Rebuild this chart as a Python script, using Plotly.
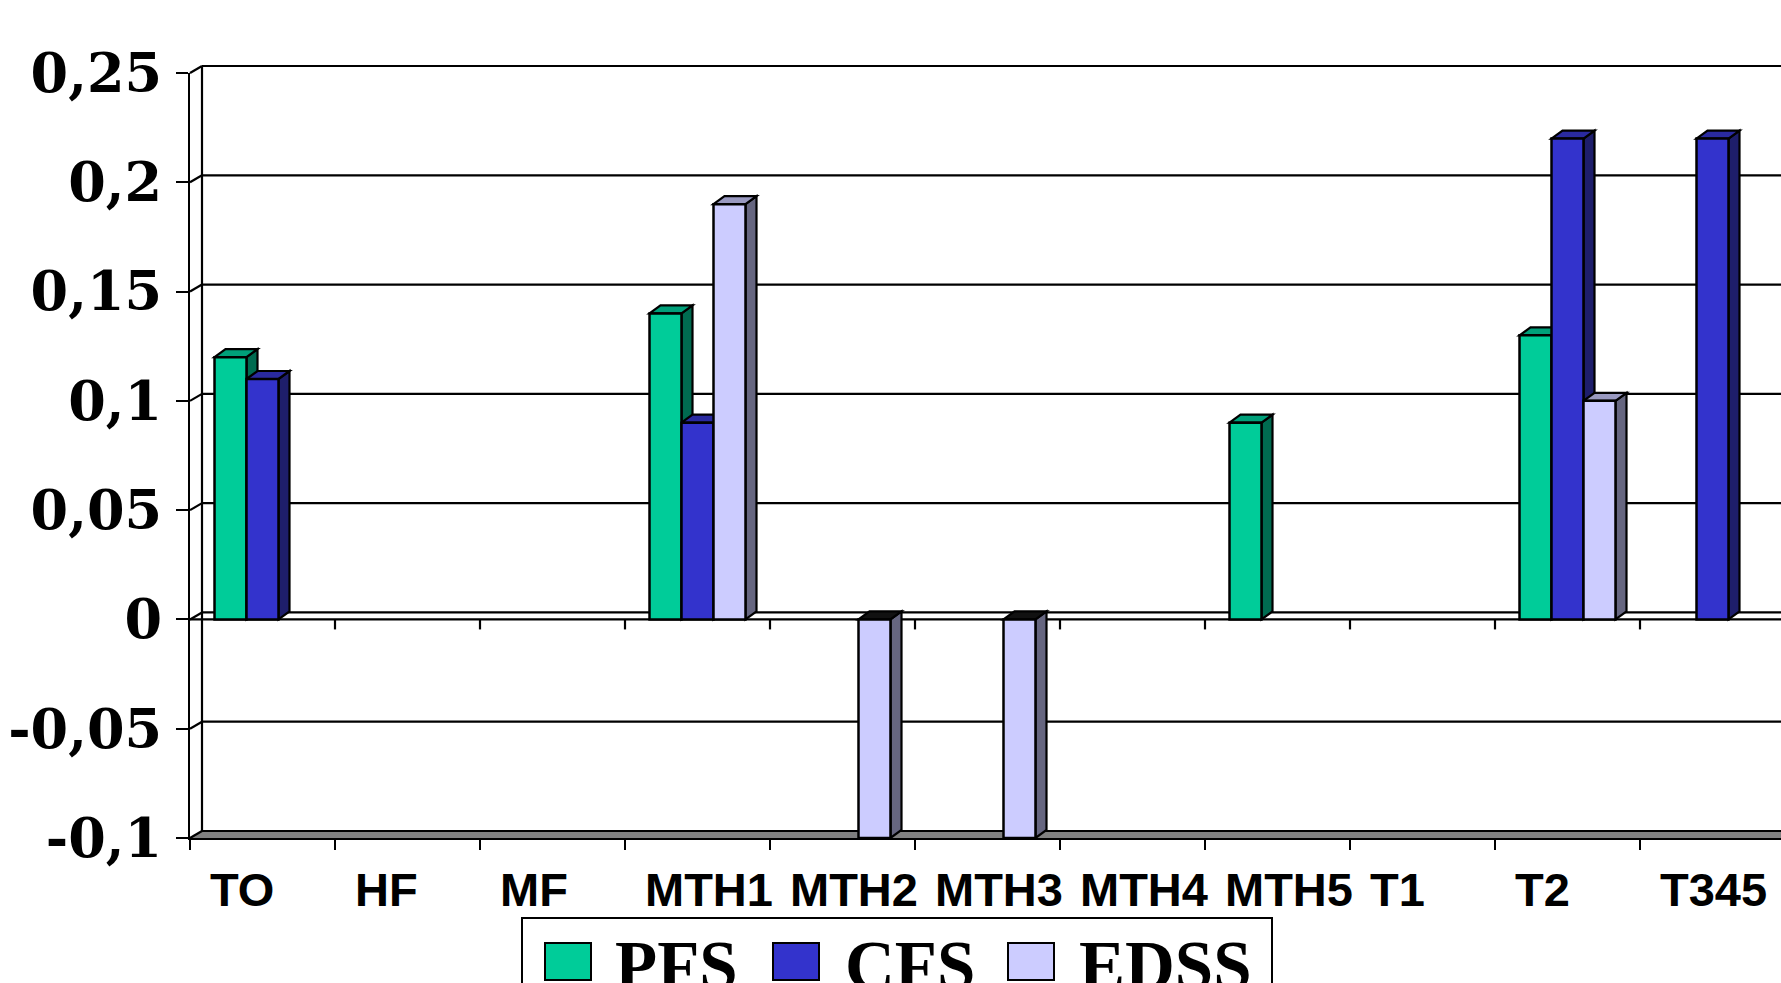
import plotly.graph_objects as go

# ---------------- data ----------------
categories = ["TO", "HF", "MF", "MTH1", "MTH2", "MTH3", "MTH4", "MTH5", "T1", "T2", "T345"]
series_names = ["PFS", "CFS", "EDSS"]
pfs = [0.12, None, None, 0.14, None, None, None, 0.09, None, 0.13, None]
cfs = [0.11, None, None, 0.09, None, None, None, None, None, 0.22, 0.22]
edss = [None, None, None, 0.19, -0.10, -0.10, None, None, None, 0.10, None]
y_tickvals = [0.25, 0.2, 0.15, 0.1, 0.05, 0, -0.05, -0.1]
y_ticktext = ["0,25", "0,2", "0,15", "0,1", "0,05", "0", "-0,05", "-0,1"]

# ---------------- style ----------------
front_colors = ["#00CC99", "#3333CC", "#CCCCFF"]
side_colors = ["#006B50", "#1E1E6B", "#666680"]
top_colors = ["#00A07A", "#2A2AA0", "#9999C0"]
neg_top_color = "#111111"

W, H = 1781, 983
ML, MT, MB, MR = 190, 73, 145, 0
PW, PH = W - ML - MR, H - MT - MB
PX_PER_CAT = 145.0
YR = [-0.1, 0.25]
XR = [-0.5, -0.5 + PW / PX_PER_CAT]
PX_PER_Y = PH / (YR[1] - YR[0])
BARGAP = 0.338
NS = len(series_names)
BW = (1 - BARGAP) / NS

WALL_DX, WALL_DY = 12, 7      # back wall offset in px
BAR_DX, BAR_DY = 11, 8        # bar depth in px


def paper_x(xd):
    return (xd - XR[0]) / (XR[1] - XR[0])


def paper_y(yd):
    return (yd - YR[0]) / (YR[1] - YR[0])


def pxp_x(px):
    return (px - ML) / PW


def pxp_y(py):
    return (H - MB - py) / PH


wdx = WALL_DX / PW
wdy = WALL_DY / PH

fig = go.Figure()
series = [pfs, cfs, edss]
xs = list(range(len(categories)))
for k, (name, vals) in enumerate(zip(series_names, series)):
    fig.add_trace(go.Bar(
        x=xs, y=vals, name=name, showlegend=False,
        marker=dict(color=front_colors[k], line=dict(color="black", width=2.5)),
    ))

shapes = []
line_k = dict(color="black", width=2.2)

# floor band (grey) at -0.1
yb = paper_y(YR[0])
shapes.append(dict(type="path", xref="paper", yref="paper", layer="below",
                   path=f"M 0,{yb} L {wdx},{yb + wdy} L 1.02,{yb + wdy} L 1.02,{yb} Z",
                   fillcolor="#808080", line=dict(width=0)))
# back wall gridlines + diagonals
for v in y_tickvals:
    yp = paper_y(v)
    shapes.append(dict(type="line", xref="paper", yref="paper", layer="below",
                       x0=wdx, x1=1.02, y0=yp + wdy, y1=yp + wdy, line=line_k))
    shapes.append(dict(type="line", xref="paper", yref="paper", layer="below",
                       x0=0, x1=wdx, y0=yp, y1=yp + wdy, line=line_k))
# back wall left edge
shapes.append(dict(type="line", xref="paper", yref="paper", layer="below",
                   x0=wdx, x1=wdx, y0=paper_y(YR[0]) + wdy, y1=paper_y(0.25) + wdy, line=line_k))
# front zero line and its ticks
y0p = paper_y(0)
shapes.append(dict(type="line", xref="paper", yref="paper", layer="below",
                   x0=0, x1=1.02, y0=y0p, y1=y0p, line=line_k))
for i in range(1, len(categories) + 1):
    xb = paper_x(i - 0.5)
    shapes.append(dict(type="line", xref="paper", yref="paper", layer="below",
                       x0=xb, x1=xb, y0=y0p, y1=y0p - 10 / PH, line=line_k))

# 3D faces of the bars
ddx = BAR_DX / PX_PER_CAT
ddy = BAR_DY / PX_PER_Y
for i in range(len(categories)):
    for k in range(NS):
        v = series[k][i]
        if v is None:
            continue
        xl = i - (1 - BARGAP) / 2 + k * BW
        xr = xl + BW
        # side face
        shapes.append(dict(type="path", xref="x", yref="y", layer="below",
                           path=f"M {xr},0 L {xr + ddx},{ddy} L {xr + ddx},{v + ddy} L {xr},{v} Z",
                           fillcolor=side_colors[k], line=line_k))
        # top face
        ty = v if v > 0 else 0
        col = top_colors[k] if v > 0 else neg_top_color
        shapes.append(dict(type="path", xref="x", yref="y", layer="below",
                           path=f"M {xl},{ty} L {xl + ddx},{ty + ddy} L {xr + ddx},{ty + ddy} L {xr},{ty} Z",
                           fillcolor=col, line=line_k))

# custom legend
leg_box = dict(x0=522, x1=1272, y0=918, y1=1010)
shapes.append(dict(type="rect", xref="paper", yref="paper", layer="above",
                   x0=pxp_x(leg_box["x0"]), x1=pxp_x(leg_box["x1"]),
                   y0=pxp_y(leg_box["y1"]), y1=pxp_y(leg_box["y0"]),
                   line=dict(color="black", width=2), fillcolor="white"))
sw_x = [545, 773, 1008]
txt_x = [613, 843, 1077]
annotations = []
for k, name in enumerate(series_names):
    shapes.append(dict(type="rect", xref="paper", yref="paper", layer="above",
                       x0=pxp_x(sw_x[k]), x1=pxp_x(sw_x[k] + 46),
                       y0=pxp_y(980), y1=pxp_y(943),
                       fillcolor=front_colors[k], line=dict(color="black", width=2)))
    annotations.append(dict(xref="paper", yref="paper", x=pxp_x(txt_x[k]), y=pxp_y(966),
                            xanchor="left", yanchor="middle", showarrow=False, text=name,
                            font=dict(family="Liberation Serif", size=69, color="black", weight="bold")))

# category labels
for i, c in enumerate(categories):
    annotations.append(dict(xref="x", yref="paper", x=i, xshift=-55, y=pxp_y(889),
                            xanchor="left", yanchor="middle", showarrow=False, text=c,
                            font=dict(family="Liberation Sans", size=47, color="black", weight="bold")))

fig.update_layout(
    width=W, height=H,
    margin=dict(l=ML, r=MR, t=MT, b=MB, pad=0),
    paper_bgcolor="white", plot_bgcolor="white",
    barmode="group", bargap=BARGAP, bargroupgap=0,
    shapes=shapes, annotations=annotations, showlegend=False,
    xaxis=dict(range=XR, showgrid=False, zeroline=False, showline=True, linecolor="black",
               linewidth=2.2, ticks="outside", ticklen=10, tickwidth=2.2, tickcolor="black",
               tickvals=[i - 0.5 for i in range(len(categories) + 1)], showticklabels=False),
    yaxis=dict(range=YR, showgrid=False, zeroline=False, showline=True, linecolor="black",
               linewidth=2.2, ticks="outside", ticklen=12, tickwidth=2.2, tickcolor="black",
               tickvals=y_tickvals, ticktext=y_ticktext, ticklabelstandoff=3,
               tickfont=dict(family="DejaVu Serif", size=54, color="black", weight="bold")),
)

fig.write_html("out.html")
